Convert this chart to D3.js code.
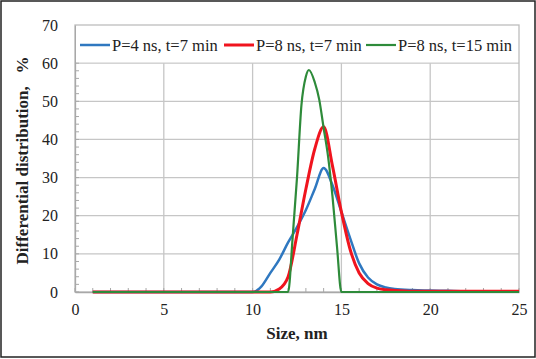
<!DOCTYPE html>
<html>
<head>
<meta charset="utf-8">
<script src="https://cdn.jsdelivr.net/npm/d3@7"></script>
<style>
    body { margin: 0; background: #fff; }
    text { font-family: "Liberation Serif", "Times New Roman", serif; }
</style>
</head>
<body>
<div id="chart"></div>
<script>
// values
const sizes4_7 = [1, 2, 3, 4, 5, 6, 7, 8, 9, 10, 10.5, 11, 11.5, 12, 12.5, 13, 13.5, 14, 14.5, 15, 15.5, 16, 16.5, 17, 17.5, 18, 19, 20, 21, 22, 23, 24, 25];
const dist4_7  = [0, 0, 0, 0, 0, 0, 0, 0, 0, 0, 1.5, 5, 8.5, 13, 17, 21.5, 27, 32.5, 28, 21, 14, 7.5, 3.8, 2, 1.2, 0.8, 0.5, 0.4, 0.3, 0.2, 0.2, 0.2, 0.2];

const sizes8_7 = [1, 2, 3, 4, 5, 6, 7, 8, 9, 10, 11, 11.5, 12, 12.5, 13, 13.5, 14, 14.5, 15, 15.5, 16, 16.5, 17, 17.5, 18, 19, 20, 21, 22, 23, 24, 25];
const dist8_7  = [0, 0, 0, 0, 0, 0, 0, 0, 0, 0, 0, 0.8, 4, 15, 27, 37.5, 43.3, 33, 21, 11, 5, 2.2, 1, 0.6, 0.4, 0.2, 0.2, 0.2, 0.2, 0.2, 0.2, 0.2];

const sizes8_15 = [1, 2, 3, 4, 5, 6, 7, 8, 9, 10, 11, 12, 12.25, 12.5, 12.75, 13, 13.17, 13.5, 13.75, 14, 14.25, 14.5, 14.75, 15, 16, 17, 18, 19, 20, 21, 22, 23, 24, 25];
const dist8_15  = [0, 0, 0, 0, 0, 0, 0, 0, 0, 0, 0, 0, 14, 30, 49, 56.5, 58.2, 55, 50.5, 43, 35.5, 25, 12, 0, 0, 0, 0, 0, 0, 0, 0, 0, 0, 0];

const seriesNames = ["P=4 ns, t=7 min", "P=8 ns, t=7 min", "P=8 ns, t=15 min"];
const xTicks = [0, 5, 10, 15, 20, 25];
const yTicks = [0, 10, 20, 30, 40, 50, 60, 70];

const series = [
    { name: seriesNames[0], color: "#2f78c0", width: 2.5, values: sizes4_7.map((s, i) => ({ x: s, y: dist4_7[i] })) },
    { name: seriesNames[1], color: "#f0141e", width: 3,   values: sizes8_7.map((s, i) => ({ x: s, y: dist8_7[i] })) },
    { name: seriesNames[2], color: "#2e8b3a", width: 2.2, values: sizes8_15.map((s, i) => ({ x: s, y: dist8_15[i] })) }
];

let margin = { top: 25, right: 17, bottom: 67, left: 75 },
    width = 536 - margin.left - margin.right,
    height = 359 - margin.top - margin.bottom;

let root = d3.select("#chart").append("svg")
    .attr("width", 536)
    .attr("height", 359);

// outer frame of the figure
root.append("rect")
    .attr("x", 1).attr("y", 1)
    .attr("width", 534).attr("height", 356)
    .attr("fill", "none")
    .attr("stroke", "#222")
    .attr("stroke-width", 1.5);

let svg = root.append("g")
    .attr("transform", "translate(" + margin.left + "," + margin.top + ")");

let x = d3.scaleLinear().domain([0, 25]).range([0, width]);
let y = d3.scaleLinear().domain([0, 70]).range([height, 0]);

// gridlines
svg.append("g")
    .selectAll("line.h")
    .data(yTicks.filter(d => d > 0 && d < 70))
    .join("line")
    .attr("x1", 0).attr("x2", width)
    .attr("y1", d => y(d)).attr("y2", d => y(d))
    .attr("stroke", "#c6c6c6").attr("stroke-width", 1.3);

svg.append("g")
    .selectAll("line.v")
    .data(xTicks.filter(d => d > 0 && d < 25))
    .join("line")
    .attr("x1", d => x(d)).attr("x2", d => x(d))
    .attr("y1", y(60)).attr("y2", height)
    .attr("stroke", "#c6c6c6").attr("stroke-width", 1.3);

// plot frame
svg.append("rect")
    .attr("width", width).attr("height", height)
    .attr("fill", "none")
    .attr("stroke", "#bdbdbd").attr("stroke-width", 1.3);

// minor ticks
svg.append("g")
    .selectAll("line")
    .data(d3.range(0, 61, 2))
    .join("line")
    .attr("x1", 0).attr("x2", 4)
    .attr("y1", d => y(d)).attr("y2", d => y(d))
    .attr("stroke", "#a8a8a8");

svg.append("g")
    .selectAll("line")
    .data(d3.range(0, 26, 1))
    .join("line")
    .attr("x1", d => x(d)).attr("x2", d => x(d))
    .attr("y1", height).attr("y2", height - 4)
    .attr("stroke", "#a8a8a8");

// axes
let xAxis = svg.append("g")
    .attr("transform", "translate(0," + height + ")")
    .call(d3.axisBottom(x).tickValues(xTicks).tickSize(0).tickPadding(12));

let yAxis = svg.append("g")
    .call(d3.axisLeft(y).tickValues(yTicks).tickSize(0).tickPadding(17));

[xAxis, yAxis].forEach(a => {
    a.attr("font-family", null);
    a.select(".domain").attr("stroke", "#a8a8a8").attr("stroke-width", 1.3);
    a.selectAll("text")
        .style("font-family", "'Liberation Serif', serif")
        .style("font-size", "16px")
        .attr("fill", "#222");
});

// lines
let line = d3.line()
    .x(d => x(d.x))
    .y(d => y(d.y))
    .curve(d3.curveMonotoneX);

series.forEach(s => {
    svg.append("path")
        .datum(s.values)
        .attr("d", line)
        .attr("fill", "none")
        .attr("stroke", s.color)
        .attr("stroke-width", s.width)
        .attr("stroke-linejoin", "round");
});

// legend band
svg.append("rect")
    .attr("x", 1).attr("y", 1)
    .attr("width", width - 2).attr("height", y(60) - 2)
    .attr("fill", "#fff");

let legendX = [5, 149, 291];
series.forEach((s, i) => {
    let g = svg.append("g").attr("transform", "translate(" + legendX[i] + "," + 20 + ")");
    g.append("line")
        .attr("x1", 0).attr("x2", 30)
        .attr("stroke", s.color).attr("stroke-width", s.width);
    g.append("text")
        .attr("x", 32).attr("y", 6)
        .style("font-size", "16.5px")
        .attr("fill", "#222")
        .text(s.name);
});

// axis titles
svg.append("text")
    .attr("x", width / 2).attr("y", height + 47)
    .attr("text-anchor", "middle")
    .style("font-size", "17px").style("font-weight", "bold")
    .attr("fill", "#222")
    .text("Size, nm");

svg.append("text")
    .attr("transform", "translate(" + (-47) + "," + (y(35) + 2) + ") rotate(-90)")
    .attr("text-anchor", "middle")
    .style("font-size", "17px").style("font-weight", "bold")
    .attr("fill", "#222")
    .style("white-space", "pre")
    .text("Differential distribution,   %");
</script>
</body>
</html>
